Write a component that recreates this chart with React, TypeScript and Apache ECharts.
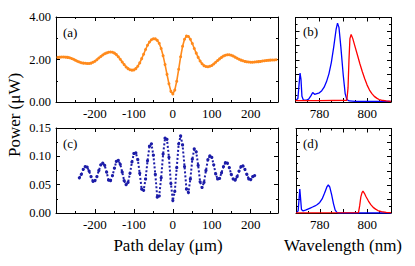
import React, { useEffect, useRef } from "react";
import * as echarts from "echarts";

// Panel (a): orange, path delay (µm) vs power (µW)
const delayA = [
  -295, -290, -285, -280, -275, -270, -265, -260, -255, -250, -245, -240, -235, -230, -225, -220, -215, -210, -205, -200,
  -195, -190, -185, -180, -175, -170, -165, -160, -155, -150, -145, -140, -135, -130, -125, -120, -115, -110, -105, -100,
  -95, -90, -85, -80, -75, -70, -65, -60, -55, -50, -45, -40, -35, -30, -25, -20, -15, -10, -5, 0,
  5, 10, 15, 20, 25, 30, 35, 40, 45, 50, 55, 60, 65, 70, 75, 80, 85, 90, 95, 100,
  105, 110, 115, 120, 125, 130, 135, 140, 145, 150, 155, 160, 165, 170, 175, 180, 185, 190, 195, 200,
  205, 210, 215, 220, 225, 230, 235, 240, 245, 250, 255, 260, 265,
];
const powerA = [
  2.10, 2.11, 2.12, 2.12, 2.11, 2.10, 2.08, 2.05, 2.01, 1.96, 1.92, 1.88, 1.85, 1.83, 1.82, 1.81, 1.81, 1.83, 1.87, 1.92,
  1.99, 2.07, 2.14, 2.21, 2.27, 2.31, 2.34, 2.35, 2.34, 2.30, 2.23, 2.13, 2.01, 1.88, 1.76, 1.65, 1.57, 1.52, 1.50, 1.51,
  1.57, 1.68, 1.84, 2.04, 2.25, 2.47, 2.67, 2.82, 2.93, 2.98, 2.97, 2.90, 2.76, 2.52, 2.18, 1.76, 1.30, 0.86, 0.50, 0.38,
  0.56, 0.98, 1.54, 2.13, 2.62, 2.95, 3.10, 3.08, 2.95, 2.75, 2.52, 2.30, 2.10, 1.93, 1.80, 1.71, 1.67, 1.66, 1.68, 1.72,
  1.79, 1.87, 1.95, 2.03, 2.10, 2.16, 2.20, 2.22, 2.22, 2.20, 2.16, 2.11, 2.06, 2.01, 1.97, 1.94, 1.91, 1.89, 1.88, 1.87,
  1.87, 1.88, 1.89, 1.90, 1.91, 1.93, 1.94, 1.95, 1.96, 1.97, 1.98, 1.98, 1.99,
];

// Panel (c): blue dots, path delay (µm) vs power (µW)
const delayC = [
  -240, -235, -230, -225, -220, -215, -210, -205, -200, -195, -190, -185, -180, -175, -170, -165, -160, -155, -150, -145,
  -140, -135, -130, -125, -120, -115, -110, -105, -100, -95, -90, -85, -80, -75, -70, -65, -60, -55, -50, -45,
  -40, -35, -30, -25, -20, -15, -10, -5, 0, 5, 10, 15, 20, 25, 30, 35, 40, 45, 50, 55,
  60, 65, 70, 75, 80, 85, 90, 95, 100, 105, 110, 115, 120, 125, 130, 135, 140, 145, 150, 155,
  160, 165, 170, 175, 180, 185, 190, 195, 200, 205, 210,
];
const powerC = [
  0.062, 0.068, 0.077, 0.082, 0.081, 0.074, 0.064, 0.056, 0.057, 0.064, 0.075, 0.085, 0.088, 0.084, 0.072, 0.058, 0.057, 0.066, 0.079, 0.091,
  0.093, 0.086, 0.072, 0.057, 0.050, 0.054, 0.070, 0.090, 0.105, 0.106, 0.094, 0.070, 0.042, 0.040, 0.060, 0.092, 0.118, 0.122, 0.102, 0.068,
  0.028, 0.030, 0.062, 0.104, 0.132, 0.130, 0.098, 0.052, 0.022, 0.038, 0.080, 0.122, 0.136, 0.120, 0.082, 0.042, 0.036, 0.060, 0.095, 0.113,
  0.108, 0.084, 0.055, 0.045, 0.054, 0.075, 0.094, 0.101, 0.098, 0.085, 0.069, 0.060, 0.061, 0.071, 0.082, 0.089, 0.088, 0.080, 0.068, 0.060,
  0.058, 0.064, 0.074, 0.082, 0.083, 0.077, 0.068, 0.060, 0.059, 0.064, 0.066,
];

// Panel (b): spectra (nm vs a.u.)
const wlBBlue = [
  770.3, 771.0, 771.5, 771.9, 772.3, 772.7, 773.3, 774.5, 775.5, 776.5, 777.2, 778.0, 779.0, 780.0, 781.0, 782.0, 783.0, 784.0,
  785.0, 786.0, 787.0, 787.6, 788.2, 789.0, 790.0, 790.8, 791.5, 792.5, 795.0, 810.0,
];
const intBBlue = [
  0.3, 0.5, 2.5, 4.1, 3.2, 0.8, 0.3, 0.25, 0.4, 0.9, 1.35, 1.1, 1.2, 1.3, 1.6, 2.1, 2.9, 4.0,
  5.6, 7.8, 10.3, 11.2, 10.6, 7.8, 3.8, 1.2, 0.35, 0.15, 0.1, 0.1,
];
const wlBRed = [
  770.0, 780.0, 791.5, 792.0, 792.4, 792.8, 793.3, 794.0, 795.0, 796.0, 797.0, 798.0, 799.0, 800.0, 801.0, 802.0, 803.0, 804.0,
  805.0, 806.0, 808.0, 810.0,
];
const intBRed = [
  0.2, 0.2, 0.25, 2.0, 6.0, 9.0, 9.6, 9.0, 7.8, 6.6, 5.4, 4.3, 3.3, 2.4, 1.7, 1.2, 0.8, 0.55,
  0.35, 0.25, 0.15, 0.1,
];

// Panel (d): spectra (nm vs a.u.)
const wlDBlue = [
  770.2, 770.9, 771.3, 771.6, 771.9, 772.3, 773.0, 774.0, 775.0, 776.0, 777.0, 778.0, 779.0, 780.0, 781.0, 782.0, 783.0, 783.6,
  784.2, 785.0, 785.8, 786.5, 787.3, 788.0, 810.0,
];
const intDBlue = [
  0.05, 0.3, 2.0, 3.4, 2.2, 0.5, 0.3, 0.4, 0.55, 0.7, 0.85, 1.0, 1.2, 1.5, 2.0, 2.8, 3.7, 4.0,
  3.7, 2.6, 1.3, 0.4, 0.05, 0.0, 0.0,
];
const wlDRed = [
  770.0, 796.3, 796.8, 797.3, 797.8, 798.2, 798.8, 799.5, 800.5, 801.5, 802.5, 803.5, 804.5, 806.0, 808.0, 810.0,
];
const intDRed = [
  0.02, 0.05, 1.0, 2.3, 2.9, 3.1, 2.8, 2.3, 1.7, 1.2, 0.8, 0.55, 0.35, 0.2, 0.1, 0.05,
];

const FONT = "Liberation Serif";
const ORANGE = "#ff8a1c";
const NAVY = "#1c1ca8";
const BLUE = "#0000ff";
const RED = "#ff0000";

const pairs = (x: number[], y: number[]) => x.map((v, i) => [v, y[i]]);

function axis(
  gridIndex: number,
  position: string,
  min: number,
  max: number,
  interval: number,
  tickLen: number,
  showLine: boolean,
  formatter: ((v: number) => string) | null,
  minor: boolean,
  fontSize = 13
) {
  return {
    type: "value",
    gridIndex,
    position,
    min,
    max,
    interval,
    axisLine: { show: showLine, onZero: false, lineStyle: { color: "#000", width: 1 } },
    axisTick: { show: true, inside: true, length: tickLen, lineStyle: { color: "#000", width: 1 } },
    minorTick: minor
      ? { show: true, splitNumber: 2, length: 2, lineStyle: { color: "#000", width: 1 } }
      : { show: false },
    axisLabel: formatter
      ? { show: true, formatter, color: "#000", fontFamily: FONT, fontSize, margin: 5 }
      : { show: false },
    splitLine: { show: false },
    minorSplitLine: { show: false },
  };
}

const fmtDelay = (v: number) => (v % 100 === 0 && Math.abs(v) <= 200 ? String(v) : "");
const fmtWl = (v: number) => (v === 780 || v === 800 ? String(v) : "");
const fmt2 = (v: number) => v.toFixed(2);

export default function App() {
  const ref = useRef<HTMLDivElement>(null);
  useEffect(() => {
    if (!ref.current) return;
    const chart = echarts.init(ref.current, null, { renderer: "svg" });
    const grids = [
      { left: 56, top: 17, width: 222, height: 85 },
      { left: 56, top: 128, width: 222, height: 85 },
      { left: 295.5, top: 17.5, width: 95.5, height: 84.5 },
      { left: 296, top: 128.5, width: 95, height: 84.5 },
    ];
    const xAxes = [
      axis(0, "bottom", -300, 270, 100, 4, true, fmtDelay, false),
      axis(0, "bottom", -300, 270, 50, 2, false, null, false),
      axis(0, "top", -300, 270, 100, 4, true, null, false),
      axis(0, "top", -300, 270, 50, 2, false, null, false),
      axis(1, "bottom", -300, 270, 100, 4, true, fmtDelay, false),
      axis(1, "bottom", -300, 270, 50, 2, false, null, false),
      axis(1, "top", -300, 270, 100, 4, true, null, false),
      axis(1, "top", -300, 270, 50, 2, false, null, false),
      axis(2, "bottom", 770, 810, 10, 4, true, fmtWl, true),
      axis(2, "top", 770, 810, 10, 4, true, null, true),
      axis(3, "bottom", 770, 810, 10, 4, true, fmtWl, true),
      axis(3, "top", 770, 810, 10, 4, true, null, true),
    ];
    const yAxes = [
      axis(0, "left", 0, 4, 2, 4, true, fmt2, true, 12.5),
      axis(0, "right", 0, 4, 2, 4, true, null, true),
      axis(1, "left", 0, 0.15, 0.05, 4, true, fmt2, true, 12.5),
      axis(1, "right", 0, 0.15, 0.05, 4, true, null, true),
      axis(2, "left", 0, 12, 2, 4, true, null, true),
      axis(2, "right", 0, 12, 2, 4, true, null, true),
      axis(3, "left", 0, 12, 2, 4, true, null, true),
      axis(3, "right", 0, 12, 2, 4, true, null, true),
    ];
    const txt = (text: string, x: number, y: number, size: number, align = "left", rotation = 0) => ({
      type: "text",
      x,
      y,
      rotation,
      style: {
        text,
        fill: "#000",
        fontFamily: FONT,
        fontSize: size,
        textAlign: align,
        textVerticalAlign: "middle",
      },
    });
    chart.setOption({
      animation: false,
      backgroundColor: "#fff",
      textStyle: { fontFamily: FONT },
      grid: grids,
      xAxis: xAxes,
      yAxis: yAxes,
      graphic: [
        txt("(a)", 63, 32, 13),
        txt("(c)", 63, 143, 13),
        txt("(b)", 303, 31, 13),
        txt("(d)", 303, 143, 13),
        txt("Power (μW)", 14, 115, 17, "center", Math.PI / 2),
        txt("Path delay (μm)", 168, 245, 17, "center"),
        txt("Wavelength (nm)", 343, 245, 17, "center"),
      ],
      series: [
        {
          type: "line",
          xAxisIndex: 0,
          yAxisIndex: 0,
          data: pairs(delayA, powerA),
          symbol: "circle",
          symbolSize: 3,
          showSymbol: true,
          lineStyle: { color: ORANGE, width: 1.6 },
          itemStyle: { color: ORANGE },
        },
        {
          type: "line",
          xAxisIndex: 4,
          yAxisIndex: 2,
          data: pairs(delayC, powerC),
          symbol: "circle",
          symbolSize: 3.2,
          showSymbol: true,
          lineStyle: { color: NAVY, width: 2, type: [2, 2] },
          itemStyle: { color: NAVY, opacity: 1 },
        },
        {
          type: "line",
          xAxisIndex: 8,
          yAxisIndex: 4,
          data: pairs(wlBBlue, intBBlue),
          showSymbol: false,
          lineStyle: { color: BLUE, width: 1.3 },
        },
        {
          type: "line",
          xAxisIndex: 8,
          yAxisIndex: 4,
          data: pairs(wlBRed, intBRed),
          showSymbol: false,
          lineStyle: { color: RED, width: 1.3 },
        },
        {
          type: "line",
          xAxisIndex: 10,
          yAxisIndex: 6,
          data: pairs(wlDBlue, intDBlue),
          showSymbol: false,
          lineStyle: { color: BLUE, width: 1.3 },
        },
        {
          type: "line",
          xAxisIndex: 10,
          yAxisIndex: 6,
          data: pairs(wlDRed, intDRed),
          showSymbol: false,
          lineStyle: { color: RED, width: 1.3 },
        },
      ],
    });
    return () => chart.dispose();
  }, []);
  return (
    <div
      ref={ref}
      style={{ position: "fixed", left: 0, top: 0, width: 415, height: 266, background: "#fff" }}
    />
  );
}
